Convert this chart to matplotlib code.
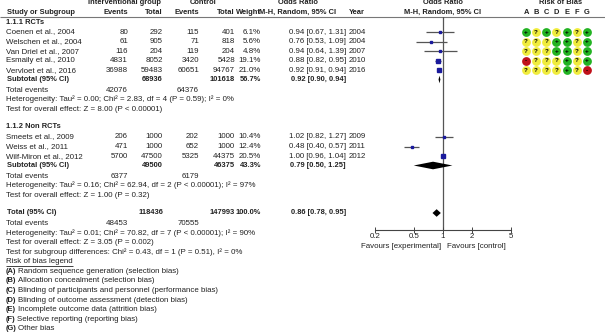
import numpy as np
import matplotlib.pyplot as plt

plt.rcParams['font.family'] = ['Liberation Sans', 'DejaVu Sans']
FS = 5.7
FSB = 5.4
TXT = '#222222'

# ---- data ----
rct_names = ['Coenen et al., 2004', 'Welschen et al., 2004', 'Van Driel et al., 2007',
             'Esmaily et al., 2010', 'Vervloet et al., 2016']
rct_ev_i = [80, 61, 116, 4831, 36988]
rct_tot_i = [292, 905, 204, 8052, 59483]
rct_ev_c = [115, 71, 119, 3420, 60651]
rct_tot_c = [401, 818, 204, 5428, 94767]
rct_weight = [6.1, 5.6, 4.8, 19.1, 21.0]
rct_or = [0.94, 0.76, 0.94, 0.88, 0.92]
rct_lo = [0.67, 0.53, 0.64, 0.82, 0.91]
rct_hi = [1.31, 1.09, 1.39, 0.95, 0.94]
rct_year = [2004, 2004, 2007, 2010, 2016]
rct_rob = ['+?+?+?+', '???++?+', '???++?+', '-???+?+', '????+?-']

non_names = ['Smeets et al., 2009', 'Weiss et al., 2011', 'Wilf-Miron et al., 2012']
non_ev_i = [206, 471, 5700]
non_tot_i = [1000, 1000, 47500]
non_ev_c = [202, 652, 5325]
non_tot_c = [1000, 1000, 44375]
non_weight = [10.4, 12.4, 20.5]
non_or = [1.02, 0.48, 1.00]
non_lo = [0.82, 0.40, 0.96]
non_hi = [1.27, 0.57, 1.04]
non_year = [2009, 2011, 2012]

# subtotals / totals: (total_i, total_c, weight, or, lo, hi, events_i, events_c)
sub_rct = (68936, 101618, 56.7, 0.92, 0.90, 0.94, 42076, 64376)
sub_non = (49500, 46375, 43.3, 0.79, 0.50, 1.25, 6377, 6179)
overall = (118436, 147993, 100.0, 0.86, 0.78, 0.95, 48453, 70555)

het_rct = 'Heterogeneity: Tau² = 0.00; Chi² = 2.83, df = 4 (P = 0.59); I² = 0%'
eff_rct = 'Test for overall effect: Z = 8.00 (P < 0.00001)'
het_non = 'Heterogeneity: Tau² = 0.16; Chi² = 62.94, df = 2 (P < 0.00001); I² = 97%'
eff_non = 'Test for overall effect: Z = 1.00 (P = 0.32)'
het_all = 'Heterogeneity: Tau² = 0.01; Chi² = 70.82, df = 7 (P < 0.00001); I² = 90%'
eff_all = 'Test for overall effect: Z = 3.05 (P = 0.002)'
sub_diff = 'Test for subgroup differences: Chi² = 0.43, df = 1 (P = 0.51), I² = 0%'

rob_letters = ['A', 'B', 'C', 'D', 'E', 'F', 'G']
rob_legend = ['Random sequence generation (selection bias)',
              'Allocation concealment (selection bias)',
              'Blinding of participants and personnel (performance bias)',
              'Blinding of outcome assessment (detection bias)',
              'Incomplete outcome data (attrition bias)',
              'Selective reporting (reporting bias)',
              'Other bias']
rob_col = {'+': '#22b322', '?': '#f0ec3c', '-': '#c0101a'}

xticks = [0.2, 0.5, 1, 2, 5]

# ---- layout ----
fig = plt.figure(figsize=(6.05, 3.33), dpi=100)
ax = fig.add_axes([0, 0, 1, 1])
ax.set_xlim(0, 605)
ax.set_ylim(333, 0)
ax.axis('off')

fx = fig.add_axes([375 / 605, (333 - 230) / 333, 136 / 605, 213 / 333])
fx.set_facecolor('none')
fx.set_xscale('log')
fx.set_xlim(0.2, 5)
fx.set_ylim(230, 17)
for s in ['left', 'right', 'top']:
    fx.spines[s].set_visible(False)
fx.spines['bottom'].set_color('#444444')
fx.spines['bottom'].set_linewidth(0.8)
fx.set_xticks(xticks)
fx.set_xticklabels([str(t) for t in xticks])
fx.minorticks_off()
fx.set_yticks([])
fx.tick_params(axis='x', direction='inout', length=5, width=0.7, pad=0,
               labelsize=FS, colors='#444444', labelcolor=TXT)
fx.axvline(1, color='#555555', lw=0.9, zorder=1)


def t(x, y, s, ha='left', bold=False, **kw):
    return ax.text(x, y, s, ha=ha, va='center', fontsize=FSB if bold else FS,
                   color=TXT, fontweight='bold' if bold else 'normal', **kw)


# header
ax.hlines(17, 0, 605, color='#777777', lw=0.8)
t(124, 3, 'Interventional group', 'center', True)
t(203, 3, 'Control', 'center', True)
t(298, 3, 'Odds Ratio', 'center', True)
t(443, 3, 'Odds Ratio', 'center', True)
t(561, 3, 'Risk of Bias', 'center', True)
t(7, 12, 'Study or Subgroup', bold=True)
t(128, 12, 'Events', 'right', True)
t(163, 12, 'Total', 'right', True)
t(199, 12, 'Events', 'right', True)
t(235, 12, 'Total', 'right', True)
t(261, 12, 'Weight', 'right', True)
t(298, 12, 'M-H, Random, 95% CI', 'center', True)
t(349, 12, 'Year', bold=True)
t(443, 12, 'M-H, Random, 95% CI', 'center', True)
rob_x = [526 + 10.15 * i for i in range(7)]
for x, L in zip(rob_x, rob_letters):
    t(x, 12, L, 'center', True)


def ci_text(o, lo, hi):
    return '%.2f [%.2f, %.2f]' % (o, lo, hi)


def study_rows(names, ev_i, tot_i, ev_c, tot_c, w, o, lo, hi, yr, y0, step):
    ys = []
    for k in range(len(names)):
        y = y0 + k * step
        ys.append(y)
        t(6, y, names[k])
        t(128, y, str(ev_i[k]), 'right')
        t(163, y, str(tot_i[k]), 'right')
        t(199, y, str(ev_c[k]), 'right')
        t(235, y, str(tot_c[k]), 'right')
        t(261, y, '%.1f%%' % w[k], 'right')
        t(346, y, ci_text(o[k], lo[k], hi[k]), 'right')
        t(349, y, str(yr[k]))
        fx.plot([lo[k], hi[k]], [y, y], color='#555555', lw=0.9, zorder=2,
                solid_capstyle='butt')
        side = 1.6 + 0.09 * w[k]
        fx.plot(o[k], y, marker='s', ms=side * 0.72, color='#1a1a9c',
                mec='#1a1a9c', zorder=3)
    return ys


def diamond(o, lo, hi, y, h):
    fx.fill([lo, o, hi, o], [y, y - h, y, y + h], color='black', lw=0, zorder=3)


def summary_block(label, vals, y, het, eff, step):
    tot_i, tot_c, w, o, lo, hi, e_i, e_c = vals
    t(7, y, label, bold=True)
    t(163, y, str(tot_i), 'right', True)
    t(235, y, str(tot_c), 'right', True)
    t(261, y, '%.1f%%' % w, 'right', True)
    t(346, y, ci_text(o, lo, hi), 'right', True)
    diamond(o, lo, hi, y, 3.8)
    y2 = y + step + 1
    t(6, y2, 'Total events')
    t(128, y2, str(e_i), 'right')
    t(199, y2, str(e_c), 'right')
    t(6, y2 + step, het)
    t(6, y2 + 2 * step, eff)
    return y2 + 2 * step


step = 9.55

# RCTs
t(6, 22, '1.1.1 RCTs', bold=True)
ys = study_rows(rct_names, rct_ev_i, rct_tot_i, rct_ev_c, rct_tot_c, rct_weight,
                rct_or, rct_lo, rct_hi, rct_year, 32, step)
for y, row in zip(ys, rct_rob):
    for x, r in zip(rob_x, row):
        ax.scatter(x, y, s=40, color=rob_col[r], lw=0, zorder=3)
        ax.text(x, y + 0.3, r, ha='center', va='center', fontsize=4.6,
                fontweight='bold', color='black', zorder=4)
summary_block('Subtotal (95% CI)', sub_rct, 79.5, het_rct, eff_rct, step)

# Non RCTs
t(6, 127, '1.1.2 Non RCTs', bold=True)
study_rows(non_names, non_ev_i, non_tot_i, non_ev_c, non_tot_c, non_weight,
           non_or, non_lo, non_hi, non_year, 137, step)
summary_block('Subtotal (95% CI)', sub_non, 165.5, het_non, eff_non, step)

# overall
yl = summary_block('Total (95% CI)', overall, 213, het_all, eff_all, step)
t(6, yl + step, sub_diff)

# favours labels
t(441, 246, 'Favours [experimental]', 'right')
t(447, 246, 'Favours [control]')

# risk of bias legend
yt = yl + 2 * step
title = t(6, yt, 'Risk of bias legend')
fig.canvas.draw()
r = fig.canvas.get_renderer()
inv = ax.transData.inverted()
bb = title.get_window_extent(r)
(x0, _), (x1, _) = inv.transform([[bb.x0, bb.y0], [bb.x1, bb.y1]])
ax.hlines(yt + 4, x0, x1, color=TXT, lw=0.6)
for k, (L, desc) in enumerate(zip(rob_letters, rob_legend)):
    y = yt + (k + 1) * 9.6
    lab = t(6, y, '(%s)' % L, bold=True)
    lb = lab.get_window_extent(r)
    xe = inv.transform([[lb.x1, lb.y0]])[0][0]
    t(xe + 1.5, y, desc)

fig.savefig('out.png', dpi=100)
